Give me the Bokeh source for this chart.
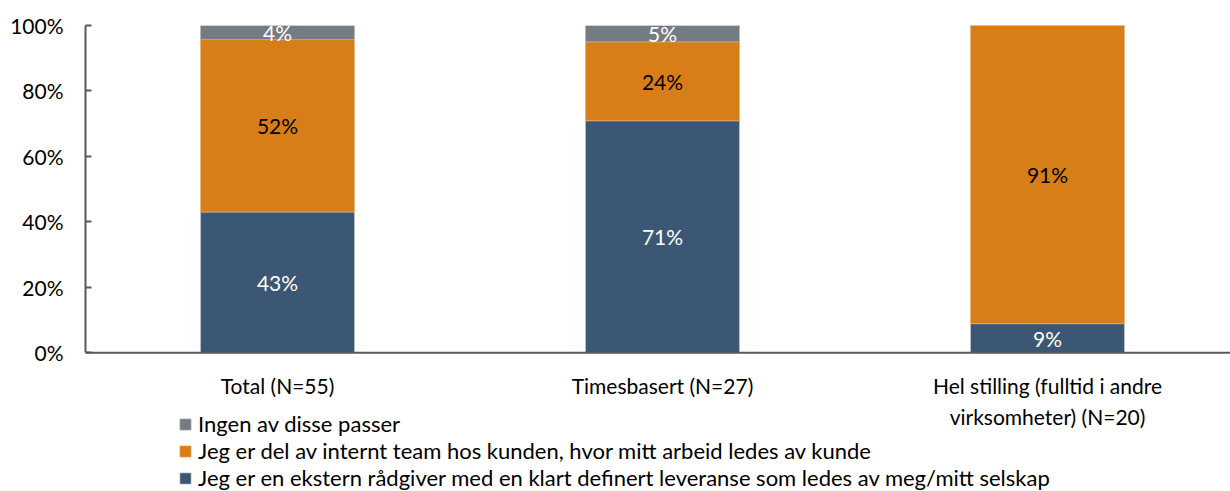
from bokeh.plotting import figure
from bokeh.models import ColumnDataSource, Range1d, FixedTicker, Legend, LegendItem, LabelSet, NumeralTickFormatter, Span
from bokeh.embed import file_html
from bokeh.resources import INLINE
from bokeh.core.properties import value

categories = ["Total (N=55)", "Timesbasert (N=27)", "Hel stilling (fulltid i andre\nvirksomheter) (N=20)"]
series_names = [
    "Jeg er en ekstern rådgiver med en klart definert leveranse som ledes av meg/mitt selskap",
    "Jeg er del av internt team hos kunden, hvor mitt arbeid ledes av kunde",
    "Ingen av disse passer",
]
ekstern = [43.0, 70.9, 8.9]
internt = [52.7, 24.1, 91.1]
ingen = [4.3, 5.0, 0.0]
label_ekstern = ["43%", "71%", "9%"]
label_internt = ["52%", "24%", "91%"]
label_ingen = ["4%", "5%", ""]
y_ticks = [0, 20, 40, 60, 80, 100]

colors = ["#3B5773", "#D77E18", "#757B82"]
AXIS = "#595959"
FONT = "Lato"
FS = "21px"

xs = list(range(len(categories)))
b1 = [0.0] * len(xs)
t1 = [b + v for b, v in zip(b1, ekstern)]
t2 = [b + v for b, v in zip(t1, internt)]
t3 = [b + v for b, v in zip(t2, ingen)]
cat_line1 = [c.split("\n")[0] for c in categories]
cat_line2 = [c.split("\n")[1] if "\n" in c else "" for c in categories]

src = ColumnDataSource(dict(
    x=xs, b1=b1, t1=t1, t2=t2, t3=t3,
    m1=[(a + b) / 2 for a, b in zip(b1, t1)],
    m2=[(a + b) / 2 for a, b in zip(t1, t2)],
    m3=[(a + b) / 2 for a, b in zip(t2, t3)],
    l1=label_ekstern, l2=label_internt, l3=label_ingen,
    c1=cat_line1, c2=cat_line2, base=b1,
))

# frame spans down to the bottom of the page; the value axis only covers 0..100
p = figure(width=1230, height=491, output_backend="svg", toolbar_location=None,
           x_range=Range1d(-0.4987, 2.4753), y_range=Range1d(-42.38, 100),
           x_axis_location=None,
           min_border_left=85, min_border_right=0, min_border_top=25, min_border_bottom=0)
p.outline_line_color = None
p.grid.grid_line_color = None
p.background_fill_color = "white"

r1 = p.vbar(x="x", bottom="b1", top="t1", width=0.4, source=src, fill_color=colors[0], line_color="#c8ccd2", line_width=0.6)
r2 = p.vbar(x="x", bottom="t1", top="t2", width=0.4, source=src, fill_color=colors[1], line_color="#e8b070", line_width=0.6)
r3 = p.vbar(x="x", bottom="t2", top="t3", width=0.4, source=src, fill_color=colors[2], line_color="#b0b4b8", line_width=0.6)

for ycol, tcol, col in [("m1", "l1", "white"), ("m2", "l2", "black"), ("m3", "l3", "white")]:
    ls = LabelSet(x="x", y=ycol, text=tcol, source=src, text_align="center", text_baseline="middle",
                  text_font=value(FONT), text_font_size=FS, text_color=col)
    p.add_layout(ls)

# category axis: line at 0 and (centred, two-line) labels beneath it
p.add_layout(Span(location=0, dimension="width", line_color=AXIS, line_width=2))
for col, off in [("c1", -20), ("c2", -51)]:
    p.add_layout(LabelSet(x="x", y="base", text=col, source=src, text_align="center", text_baseline="top",
                          y_offset=off, text_font=value(FONT), text_font_size=FS, text_color="black"))

# y axis
p.yaxis.bounds = (0, 100)
p.yaxis.ticker = FixedTicker(ticks=y_ticks)
p.yaxis.formatter = NumeralTickFormatter(format="0")
p.yaxis.major_label_overrides = {t: f"{t}%" for t in y_ticks}
p.yaxis.axis_line_color = AXIS
p.yaxis.axis_line_width = 2
p.yaxis.major_tick_line_color = AXIS
p.yaxis.major_tick_line_width = 2
p.yaxis.major_tick_in = 6
p.yaxis.major_tick_out = 0
p.yaxis.minor_tick_line_color = None
p.yaxis.major_label_standoff = 22
p.yaxis.major_label_text_font = FONT
p.yaxis.major_label_text_font_size = FS
p.yaxis.major_label_text_color = "black"

legend = Legend(items=[
    LegendItem(label=series_names[2], renderers=[r3]),
    LegendItem(label=series_names[1], renderers=[r2]),
    LegendItem(label=series_names[0], renderers=[r1]),
], location=(93, 0), orientation="vertical", padding=0, margin=0, spacing=0,
    glyph_width=14, glyph_height=14, label_standoff=6, label_height=25,
    label_text_font=FONT, label_text_font_size="22px", label_text_color="black",
    border_line_color=None, background_fill_alpha=0)
p.add_layout(legend, "center")

open("out.html", "w").write(file_html(p, INLINE))
